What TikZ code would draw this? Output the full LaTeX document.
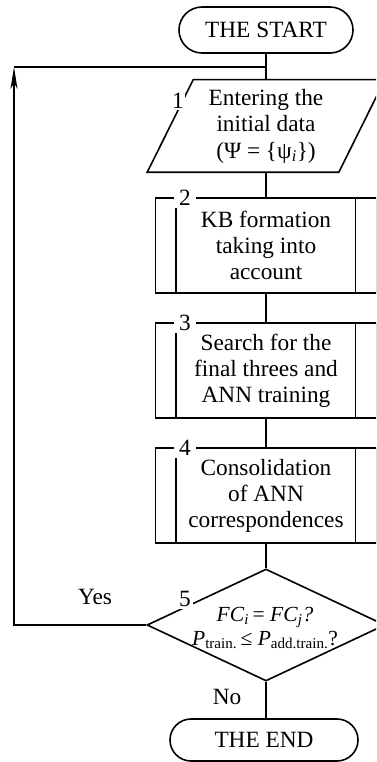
\documentclass[tikz,border=0pt]{standalone}
\usepackage{amsmath}
\usepackage{fontspec}
\setmainfont{Liberation Serif}
\usetikzlibrary{shapes.geometric,shapes.misc,arrows.meta}
\begin{document}
\begin{tikzpicture}[x=1pt,y=-1pt,line width=1.6pt,
  every node/.style={font=\fontsize{23.3}{26}\selectfont,inner sep=0pt},
  term/.style={rounded rectangle,draw,line width=1.6pt},
  procbox/.style={rectangle,draw,minimum width=221pt,minimum height=95pt,align=center},
  numlab/.style={fill=white,inner xsep=5pt,inner ysep=1pt},
  plainlab/.style={}]
\useasboundingbox (0,0) rectangle (376,762);
\clip (0,0) rectangle (376,762);

% start
\node[term,minimum width=174pt,minimum height=46pt] (start) at (266,30) {THE START};

% input
\node[minimum width=190pt,minimum height=91pt,align=center] (in1) at (266,126)
  {Entering the\\initial data\\[1pt](Ψ = \{ψ\textsubscript{\textit{i}}\})};
\draw ([xshift=-23pt]in1.south west) -- ([xshift=-23pt]in1.south east)
  -- ([xshift=23pt]in1.north east) -- ([xshift=23pt]in1.north west) -- cycle;
\node[fill=white,inner sep=1.5pt] (l1) at (178,101) {1};

% processes
\node[procbox] (p2) at (266,245.5) {KB formation\\taking into\\account};
\node[procbox] (p3) at (266,370.5) {Search for the\\final threes and\\ANN training};
\node[procbox] (p4) at (266,495.5) {Consolidation\\of ANN\\correspondences};
\foreach \p in {p2,p3,p4}{
  \draw ([xshift=21pt,yshift=-11pt]\p.north west) -- ([xshift=21pt]\p.south west);
  \draw ([xshift=-22pt]\p.north east) -- ([xshift=-22pt]\p.south east);
}
\node[numlab] (l2) at (185,198) {2};
\node[numlab] (l3) at (185,323) {3};
\node[numlab] (l4) at (185,448) {4};

% decision
\node[diamond,draw,minimum width=238pt,minimum height=112pt,inner sep=0pt] (dec) at (266,625) {};
\node[align=center,font=\fontsize{21.5}{23.5}\selectfont] (dtext) at (265,628)
  {\textit{FC}$_{\textit{i}}$\,= \textit{FC}$_{\textit{j}}$\textit{?}\\
   \textit{P}$_{\text{train.}}$\,≤ \textit{P}$_{\text{add.train.}}$?};
\node[fill=white,inner sep=2pt] (l5) at (185,599) {5};

\node[plainlab] (yes) at (95,597) {Yes};
\node[plainlab] (no) at (227,697) {No};

% end
\node[term,minimum width=188pt,minimum height=42pt] (end) at (264,740) {THE END};

% connectors
\coordinate (join) at (266,67);
\coordinate (ctl) at (14,67);
\draw (start.south) -- (in1.north);
\draw (in1.south) -- (p2.north);
\draw (p2.south) -- (p3.north);
\draw (p3.south) -- (p4.north);
\draw (p4.south) -- (dec.north);
\draw (dec.south) -- (dec.south |- end.north);
\draw[line width=1.3pt,-{Stealth[length=22pt,width=7pt,inset=6pt]}] (dec.west) -| (ctl);
\draw[line width=1.3pt] (ctl) -- (join);
\end{tikzpicture}
\end{document}
